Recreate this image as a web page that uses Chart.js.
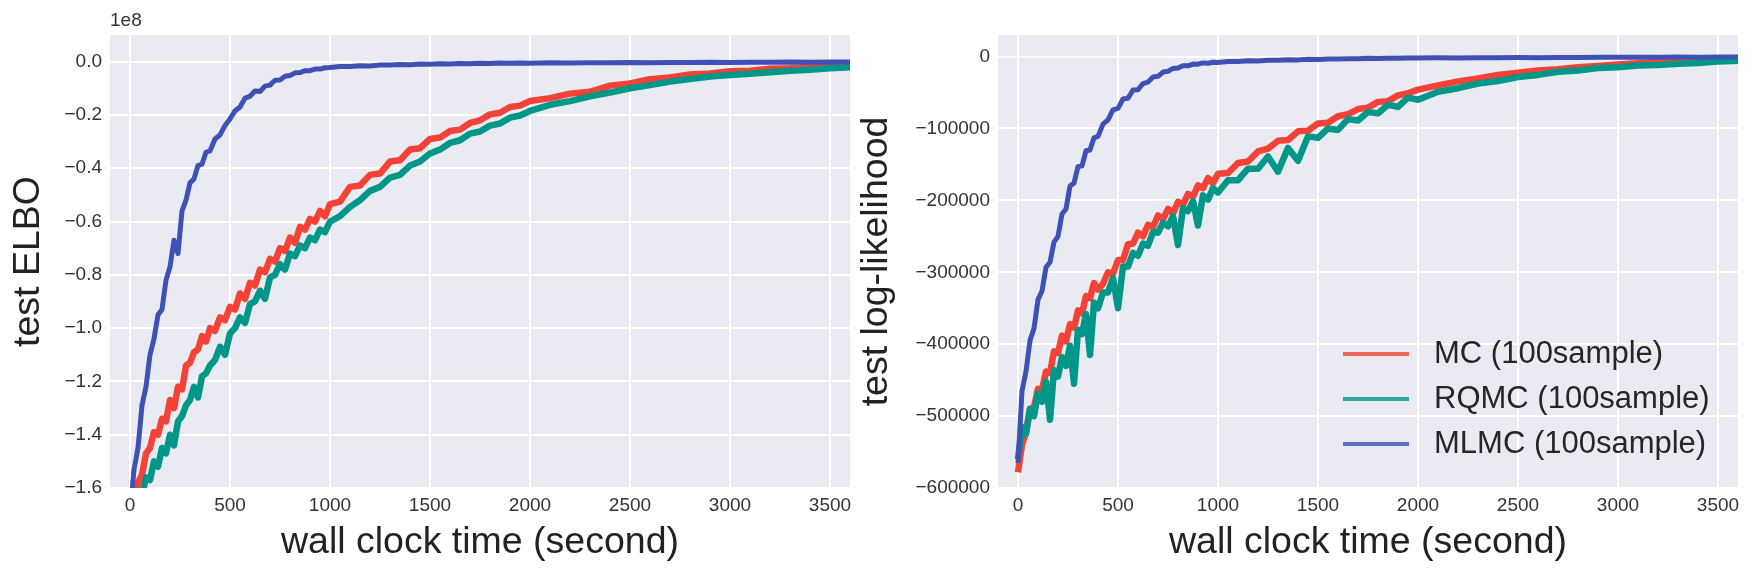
<!DOCTYPE html>
<html>
<head>
<meta charset="utf-8">
<script src="https://cdn.jsdelivr.net/npm/chart.js@4.4.0/dist/chart.umd.min.js"></script>
<style>
  html, body { margin: 0; padding: 0; background: #fff; }
  #wrap { position: relative; width: 1755px; height: 576px; }
  #left { position: absolute; left: 0; top: 0; }
  #right { position: absolute; left: 850px; top: 0; }
</style>
</head>
<body>
<div id="wrap">
  <canvas id="left" width="860" height="576"></canvas>
  <canvas id="right" width="905" height="576"></canvas>
</div>
<script>
// wall clock time (s), shared by every curve
const times = [
  0, 20, 40, 60, 80, 100, 120, 140, 160, 180, 200, 220, 240, 260, 280, 300, 320, 340, 360, 380, 400,
  425, 450, 475, 500, 525, 550, 575, 600, 625, 650, 675, 700, 725, 750, 775, 800, 825, 850, 875, 900, 925, 950, 975, 1000,
  1050, 1100, 1150, 1200, 1250, 1300, 1350, 1400, 1450, 1500, 1550, 1600, 1650, 1700, 1750, 1800, 1850, 1900, 1950, 2000,
  2100, 2200, 2300, 2400, 2500, 2600, 2700, 2800, 2900, 3000, 3100, 3200, 3300, 3400, 3500, 3600
];

// test ELBO (units of 1e8)
const elboMC = [
  -1.75, -1.68, -1.58, -1.55, -1.47, -1.45, -1.39, -1.40, -1.34, -1.35, -1.27, -1.30, -1.22, -1.23, -1.14, -1.13, -1.09, -1.08, -1.03, -1.05, -1.00,
  -1.01, -0.96, -0.97, -0.92, -0.93, -0.87, -0.89, -0.83, -0.84, -0.78, -0.79, -0.74, -0.75, -0.70, -0.71, -0.66, -0.68, -0.62, -0.63, -0.59, -0.60, -0.56, -0.58, -0.535,
  -0.525, -0.47, -0.465, -0.425, -0.42, -0.375, -0.37, -0.33, -0.325, -0.29, -0.285, -0.26, -0.255, -0.23, -0.22, -0.198, -0.192, -0.17, -0.165, -0.148,
  -0.137, -0.12, -0.113, -0.09, -0.082, -0.066, -0.059, -0.048, -0.044, -0.036, -0.034, -0.027, -0.025, -0.019, -0.017, -0.012
];
const elboRQMC = [
  -1.80, -1.74, -1.67, -1.63, -1.56, -1.57, -1.50, -1.52, -1.45, -1.47, -1.40, -1.44, -1.35, -1.33, -1.29, -1.27, -1.22, -1.26, -1.18, -1.17, -1.14,
  -1.12, -1.07, -1.10, -1.02, -1.00, -0.96, -0.98, -0.91, -0.90, -0.86, -0.89, -0.81, -0.80, -0.76, -0.78, -0.72, -0.73, -0.69, -0.70, -0.66, -0.67, -0.63, -0.64, -0.60,
  -0.58, -0.545, -0.52, -0.485, -0.47, -0.435, -0.425, -0.39, -0.375, -0.345, -0.33, -0.305, -0.295, -0.27, -0.262, -0.24, -0.232, -0.21, -0.202, -0.185,
  -0.162, -0.148, -0.13, -0.116, -0.1, -0.088, -0.075, -0.065, -0.056, -0.05, -0.045, -0.04, -0.034, -0.03, -0.025, -0.021
];
const elboMLMC = [
  -1.70, -1.53, -1.45, -1.29, -1.22, -1.10, -1.04, -0.95, -0.93, -0.82, -0.77, -0.67, -0.72, -0.56, -0.52, -0.455, -0.44, -0.39, -0.385, -0.34, -0.335,
  -0.29, -0.275, -0.24, -0.215, -0.185, -0.17, -0.137, -0.13, -0.11, -0.112, -0.092, -0.088, -0.07, -0.069, -0.055, -0.052, -0.042, -0.041, -0.034, -0.034, -0.028, -0.028, -0.023, -0.022,
  -0.018, -0.018, -0.015, -0.016, -0.013, -0.013, -0.011, -0.012, -0.009, -0.010, -0.008, -0.009, -0.007, -0.008, -0.006, -0.007, -0.005, -0.006, -0.005, -0.006,
  -0.004, -0.005, -0.004, -0.004, -0.003, -0.004, -0.003, -0.003, -0.002, -0.003, -0.002, -0.002, -0.001, -0.002, -0.001, -0.001
];

// test log-likelihood
const llMC = [
  -578000, -540000, -522000, -490000, -488000, -462000, -464000, -438000, -440000, -410000, -412000, -388000, -396000, -372000, -377000, -353000, -357000, -333000, -336000, -315000, -324000,
  -316000, -300000, -302000, -283000, -283000, -261000, -260000, -245000, -250000, -234000, -237000, -221000, -226000, -212000, -218000, -202000, -206000, -191000, -195000, -179000, -183000, -169000, -176000, -163000,
  -162000, -148000, -146000, -132000, -128000, -117000, -116000, -104000, -103000, -93000, -92000, -83000, -80000, -73000, -71000, -63000, -62000, -54000, -51000, -46000,
  -40000, -34500, -30500, -25500, -22500, -19500, -17500, -14800, -13200, -11000, -9200, -7500, -6300, -4800, -3800, -2600
];
const llRQMC = [
  -560000, -515000, -525000, -490000, -500000, -468000, -480000, -452000, -505000, -436000, -445000, -418000, -430000, -402000, -455000, -380000, -386000, -358000, -415000, -342000, -350000,
  -328000, -328000, -308000, -350000, -292000, -292000, -273000, -277000, -260000, -263000, -244000, -245000, -231000, -236000, -222000, -262000, -211000, -215000, -201000, -235000, -193000, -199000, -183000, -189000,
  -172000, -172000, -156000, -156000, -139000, -160000, -127000, -145000, -111000, -113000, -100000, -102000, -87000, -89000, -77000, -79000, -67000, -70000, -57000, -60000,
  -49000, -44000, -37500, -34000, -28500, -25500, -21000, -19500, -16000, -15000, -12500, -11800, -10000, -9000, -7000, -5800
];
const llMLMC = [
  -565000, -465000, -438000, -395000, -378000, -338000, -326000, -293000, -286000, -258000, -250000, -219000, -212000, -180000, -176000, -153000, -152000, -131000, -130000, -113000, -111000,
  -94000, -88000, -74000, -72000, -59000, -58000, -46500, -46000, -37500, -35500, -28500, -27500, -21500, -20500, -16500, -16000, -12800, -12800, -10400, -10600, -8800, -9200, -7800, -8300,
  -6800, -7000, -5800, -6000, -5000, -5200, -4400, -4600, -3800, -4000, -3300, -3500, -2900, -3100, -2500, -2700, -2200, -2400, -2000, -2100,
  -1800, -1900, -1600, -1600, -1400, -1500, -1200, -1300, -1000, -1100, -900, -900, -700, -800, -600, -600
];

const seriesLabels = ['MC (100sample)', 'RQMC (100sample)', 'MLMC (100sample)'];
const xTicks = [0, 500, 1000, 1500, 2000, 2500, 3000, 3500];
const elboTicks = [0, -0.2, -0.4, -0.6, -0.8, -1.0, -1.2, -1.4, -1.6];
const llTicks = [0, -100000, -200000, -300000, -400000, -500000, -600000];

const lineColors = ['#F44336', '#009688', '#3F51B5'];
const lineWidths = [6.5, 6.5, 5];
const legendColors = ['rgba(244,67,54,0.8)', 'rgba(0,150,136,0.8)', 'rgba(63,81,181,0.8)'];
const FONT = '"Liberation Sans", Arial, sans-serif';

function toPoints(ys) {
    return times.map((t, i) => ({ x: t, y: ys[i] }));
}

// matplotlib writes negative numbers with a real minus sign
function minus(s) {
    return s.replace('-', '\u2212');
}

// grey plotting area like seaborn darkgrid
const plotBackground = {
    id: 'plotBackground',
    beforeDraw(chart) {
        const { ctx, chartArea: a } = chart;
        ctx.save();
        ctx.fillStyle = '#EAEAF2';
        ctx.fillRect(a.left, a.top, a.right - a.left, a.bottom - a.top);
        ctx.restore();
    }
};

// legend drawn inside the plot, lower right
const insideLegend = {
    id: 'insideLegend',
    afterDraw(chart) {
        const { ctx, chartArea: a } = chart;
        ctx.save();
        ctx.font = '31px ' + FONT;
        ctx.textBaseline = 'middle';
        ctx.textAlign = 'left';
        ctx.lineWidth = 4;
        chart.data.datasets.forEach((ds, i) => {
            const x = a.right - 395;
            const y = a.bottom - 134 + i * 45;
            ctx.strokeStyle = legendColors[i];
            ctx.beginPath();
            ctx.moveTo(x, y);
            ctx.lineTo(x + 66, y);
            ctx.stroke();
            ctx.fillStyle = '#262626';
            ctx.fillText(ds.label, x + 91, y);
        });
        ctx.restore();
    }
};

function makeChart(id, curves, cfg) {
    return new Chart(document.getElementById(id), {
        type: 'line',
        data: {
            datasets: curves.map((ys, i) => ({
                label: seriesLabels[i],
                data: toPoints(ys),
                borderColor: lineColors[i],
                backgroundColor: lineColors[i],
                borderWidth: lineWidths[i],
                borderJoinStyle: 'round',
                pointRadius: 0,
                tension: 0,
                clip: 0,
                order: 3 - i
            }))
        },
        options: {
            responsive: false,
            animation: false,
            devicePixelRatio: 1,
            events: [],
            layout: { padding: cfg.padding },
            plugins: {
                legend: { display: false },
                tooltip: { enabled: false },
                title: cfg.title
            },
            scales: {
                x: {
                    type: 'linear',
                    min: -100,
                    max: 3600,
                    afterBuildTicks: s => { s.ticks = xTicks.map(v => ({ value: v })); },
                    afterFit: s => { s.height = 88; },
                    border: { display: false },
                    grid: { color: '#FFFFFF', lineWidth: 2, drawTicks: false },
                    ticks: {
                        padding: 6, color: '#333333', maxRotation: 0, autoSkip: false,
                        font: { family: FONT, size: 19 },
                        callback: v => String(v)
                    },
                    title: {
                        display: true, text: 'wall clock time (second)', color: '#222222',
                        font: { family: FONT, size: 37.5 },
                        padding: { top: 0, bottom: 10.5 }
                    }
                },
                y: {
                    type: 'linear',
                    min: cfg.yMin,
                    max: cfg.yMax,
                    afterBuildTicks: s => { s.ticks = cfg.yTicks.map(v => ({ value: v })); },
                    afterFit: s => { s.width = cfg.yWidth; },
                    border: { display: false },
                    grid: { color: '#FFFFFF', lineWidth: 2, drawTicks: false },
                    ticks: {
                        padding: 8, color: '#333333', autoSkip: false,
                        font: { family: FONT, size: 19 },
                        callback: cfg.yLabel
                    },
                    title: {
                        display: true, text: cfg.yTitle, color: '#222222',
                        font: { family: FONT, size: 37.5 },
                        padding: { top: cfg.yTitlePad, bottom: 0 }
                    }
                }
            }
        },
        plugins: cfg.legend ? [plotBackground, insideLegend] : [plotBackground]
    });
}

makeChart('left', [elboMC, elboRQMC, elboMLMC], {
    padding: { top: 9, right: 10, bottom: 0, left: 0 },
    title: {
        display: true, text: '1e8', align: 'start', fullSize: false, color: '#333333',
        font: { family: FONT, size: 19, weight: 'normal' },
        padding: { top: 0, bottom: 3.2 }
    },
    yMin: -1.6, yMax: 0.1, yTicks: elboTicks, yWidth: 110,
    yLabel: v => minus(v.toFixed(1)),
    yTitle: 'test ELBO', yTitlePad: 6,
    legend: false
});

makeChart('right', [llMC, llRQMC, llMLMC], {
    padding: { top: 35, right: 17, bottom: 0, left: 0 },
    title: { display: false },
    yMin: -600000, yMax: 30000, yTicks: llTicks, yWidth: 148,
    yLabel: v => minus(String(v)),
    yTitle: 'test log-likelihood', yTitlePad: 4,
    legend: true
});
</script>
</body>
</html>
